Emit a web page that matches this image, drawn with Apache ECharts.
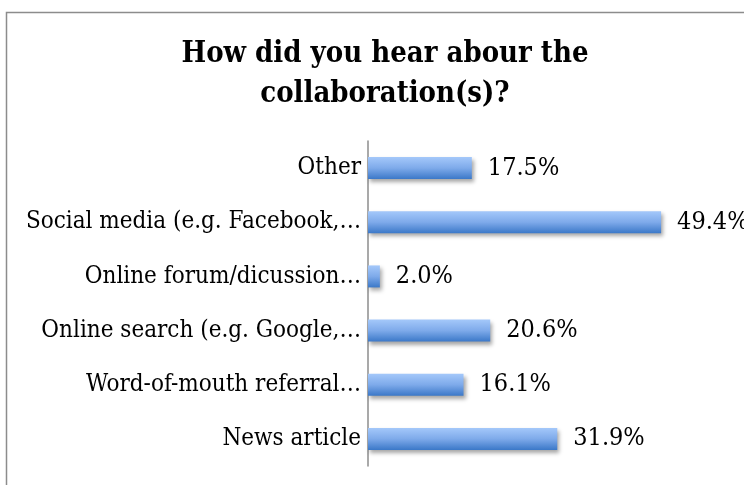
<!DOCTYPE html>
<html><head><meta charset="utf-8">
<script src="https://cdn.jsdelivr.net/npm/echarts@6/dist/echarts.min.js"></script>
<style>html,body{margin:0;padding:0;background:#fff}#c{width:744px;height:485px}</style>
</head><body><div id="c"></div>
<script>
const titleText = "How did you hear abour the\ncollaboration(s)?";
const categories = ["Other", "Social media (e.g. Facebook,…", "Online forum/dicussion…", "Online search (e.g. Google,…", "Word-of-mouth referral…", "News article"];
const values = [17.5, 49.4, 2.0, 20.6, 16.1, 31.9];

const chart = echarts.init(document.getElementById('c'));
const font = "'DejaVu Serif Condensed', 'Liberation Serif', serif";
chart.setOption({
  animation: false,
  title: {
    text: titleText, left: 380, top: 29, textAlign: 'center',
    textStyle: { fontFamily: font, fontWeight: 'bold', fontSize: 29, lineHeight: 40, color: '#000' }
  },
  graphic: [{ type: 'polyline', shape: { points: [[6.5, 800], [6.5, 12.5], [800, 12.5]] }, style: { stroke: '#8c8c8c', lineWidth: 1.5, fill: null } }],
  grid: { left: 368, top: 141, bottom: 19, right: 20, containLabel: false },
  xAxis: { type: 'value', min: 0, max: 60, show: false },
  yAxis: {
    type: 'category', data: categories, inverse: true,
    axisLine: { show: true, lineStyle: { color: '#8c8c8c', width: 1.5 } },
    axisTick: { show: false },
    axisLabel: { margin: 7, fontFamily: font, fontSize: 24, color: '#000' }
  },
  series: [{
    type: 'bar', data: values, barWidth: 22,
    itemStyle: {
      color: new echarts.graphic.LinearGradient(0, 0, 0, 1, [
        { offset: 0, color: '#a4c8fa' }, { offset: 0.5, color: '#7eaaea' }, { offset: 1, color: '#3b78c8' }
      ]),
      shadowColor: 'rgba(0,0,0,0.35)', shadowBlur: 4, shadowOffsetX: 2, shadowOffsetY: 3
    },
    label: {
      show: true, position: 'right', distance: 16,
      formatter: p => p.value.toFixed(1) + '%',
      fontFamily: font, fontSize: 25, color: '#000'
    }
  }]
});
</script></body></html>
